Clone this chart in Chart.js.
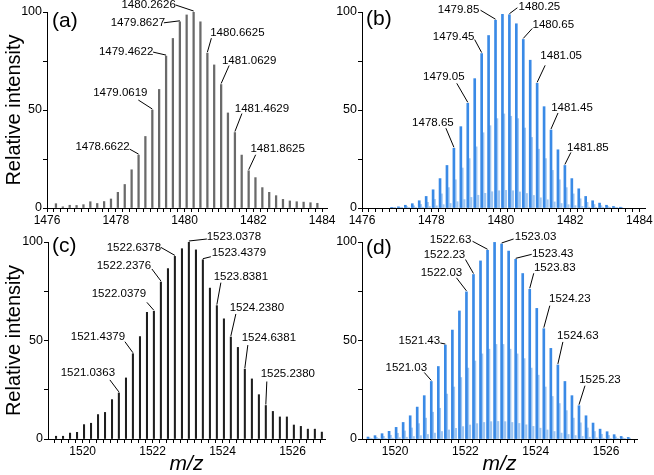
<!DOCTYPE html>
<html lang="en">
<head>
<meta charset="UTF-8">
<title>Isotope patterns</title>
<script src="https://cdn.jsdelivr.net/npm/chart.js"></script>
<style>
  body { margin: 0; background: #fff; width: 654px; height: 475px; position: relative; overflow: hidden; }
  .panel { position: absolute; }
</style>
</head>
<body>
<div class="panel" style="left:0;top:0"><canvas id="ca" width="345" height="232"></canvas></div>
<div class="panel" style="left:330px;top:0"><canvas id="cb" width="324" height="232"></canvas></div>
<div class="panel" style="left:0;top:230px"><canvas id="cc" width="340" height="245"></canvas></div>
<div class="panel" style="left:330px;top:230px"><canvas id="cd" width="324" height="245"></canvas></div>
<script>
// (a) measured, m/z 1476-1484
const mzA = [1476.26, 1476.46, 1476.66, 1476.86, 1477.06, 1477.26, 1477.46, 1477.66, 1477.86, 1478.06,
  1478.26, 1478.46, 1478.6622, 1478.86, 1479.0619, 1479.26, 1479.4622, 1479.66, 1479.8627, 1480.06,
  1480.2626, 1480.46, 1480.6625, 1480.86, 1481.0629, 1481.26, 1481.4629, 1481.66, 1481.8625, 1482.06,
  1482.26, 1482.46, 1482.66, 1482.86, 1483.06, 1483.26, 1483.46, 1483.66, 1483.86];
const intA = [2.2, 0.6, 1.4, 1.3, 1.7, 3.2, 2.3, 3.3, 4.6, 8,
  12, 19.5, 27, 36.5, 50, 60.5, 77.5, 86.5, 95, 98.5,
  100, 95, 79, 73, 63, 48.5, 38.5, 27, 19, 15.5,
  10.4, 8, 6.3, 4.4, 3.6, 3.2, 3, 2.7, 2.4];
const labelsA = ['1478.6622', '1479.0619', '1479.4622', '1479.8627', '1480.2626',
  '1480.6625', '1481.0629', '1481.4629', '1481.8625'];

// (b) simulated, m/z 1476-1484: main peaks, shoulders, and small in-between bumps
const mzB = [1476.85, 1477.05, 1477.25, 1477.45, 1477.65, 1477.85, 1478.05, 1478.25, 1478.45, 1478.65,
  1478.85, 1479.05, 1479.25, 1479.45, 1479.65, 1479.85, 1480.05, 1480.25, 1480.45, 1480.65,
  1480.85, 1481.05, 1481.25, 1481.45, 1481.65, 1481.85, 1482.05, 1482.25, 1482.45, 1482.65,
  1482.85, 1483.05, 1483.25, 1483.45];
const intB = [0.3, 0.6, 1.4, 2.2, 3.7, 5.9, 9.3, 15, 21.7, 30.5,
  41.5, 53.4, 66, 78.8, 88, 95.8, 98.8, 98.6, 94, 86,
  75.4, 63.6, 51.7, 39.8, 29.7, 21.7, 15, 9.8, 5.9, 3.7,
  2.5, 1.4, 0.8, 0.4];
const mzB2 = [1476.89, 1477.09, 1477.29, 1477.49, 1477.69, 1477.89, 1478.09, 1478.29, 1478.49, 1478.69,
  1478.89, 1479.09, 1479.29, 1479.49, 1479.69, 1479.89, 1480.09, 1480.29, 1480.49, 1480.69,
  1480.89, 1481.09, 1481.29, 1481.49, 1481.69, 1481.89, 1482.09, 1482.29, 1482.49, 1482.69,
  1482.89, 1483.09, 1483.29, 1483.49];
const intB2 = [0.1, 0.2, 0.7, 1.1, 1.8, 2.9, 4.4, 7.2, 10.4, 14.4,
  20.4, 25.2, 31.2, 38.4, 42, 45.6, 48, 46.8, 45.6, 40.8,
  36, 30, 25.2, 19.2, 14.4, 10.4, 7.2, 4.7, 2.9, 1.8,
  1.2, 0.7, 0.4, 0.2];
const mzB3 = [1476.95, 1477.15, 1477.35, 1477.55, 1477.75, 1477.95, 1478.15, 1478.35, 1478.55, 1478.75,
  1478.95, 1479.15, 1479.35, 1479.55, 1479.75, 1479.95, 1480.15, 1480.35, 1480.55, 1480.75,
  1480.95, 1481.15, 1481.35, 1481.55, 1481.75, 1481.95, 1482.15, 1482.35, 1482.55, 1482.75,
  1482.95, 1483.15, 1483.35];
const intB3 = [0.05, 0.1, 0.2, 0.3, 0.4, 0.7, 1.1, 1.7, 2.3, 3.2,
  4.3, 5.4, 6.5, 7.5, 8.3, 8.8, 9, 8.8, 8.2, 7.4,
  6.4, 5.2, 4.2, 3.1, 2.3, 1.7, 1.2, 0.8, 0.4, 0.3,
  0.15, 0.1, 0.05];
const labelsB = ['1478.65', '1479.05', '1479.45', '1479.85', '1480.25',
  '1480.65', '1481.05', '1481.45', '1481.85'];

// (c) measured, m/z 1519-1527
const mzC = [1519.24, 1519.44, 1519.64, 1519.84, 1520.04, 1520.24, 1520.44, 1520.64, 1520.84, 1521.0363,
  1521.24, 1521.4379, 1521.64, 1521.84, 1522.0379, 1522.2376, 1522.44, 1522.6378, 1522.84, 1523.0378,
  1523.24, 1523.4379, 1523.64, 1523.8381, 1524.04, 1524.2380, 1524.44, 1524.6381, 1524.84, 1525.04,
  1525.2380, 1525.44, 1525.64, 1525.84, 1526.04, 1526.24, 1526.44, 1526.64, 1526.84];
const intC = [1.4, 1.4, 3, 3.4, 7.3, 8, 12.4, 13.5, 20, 23.4,
  31, 43.3, 52, 64.3, 64.8, 79.7, 86.5, 92.7, 96.6, 100,
  96, 91, 76.6, 67.7, 61, 51.8, 46.5, 35.5, 30.5, 22.5,
  17, 14, 11.2, 11.2, 7.1, 6.4, 5, 5, 3.5];
const labelsC = ['1521.0363', '1521.4379', '1522.0379', '1522.2376', '1522.6378', '1523.0378',
  '1523.4379', '1523.8381', '1524.2380', '1524.6381', '1525.2380'];

// (d) simulated, m/z 1519-1527
const mzD = [1519.23, 1519.43, 1519.63, 1519.83, 1520.03, 1520.23, 1520.43, 1520.63, 1520.83, 1521.03,
  1521.23, 1521.43, 1521.63, 1521.83, 1522.03, 1522.23, 1522.43, 1522.63, 1522.83, 1523.03,
  1523.23, 1523.43, 1523.63, 1523.83, 1524.03, 1524.23, 1524.43, 1524.63, 1524.83, 1525.03,
  1525.23, 1525.43, 1525.63, 1525.83, 1526.03, 1526.23, 1526.43, 1526.63];
const intD = [1, 1.7, 2.7, 3.9, 5.9, 8.4, 11.8, 16.2, 22, 29.2,
  36.8, 47.7, 55.3, 65, 74.7, 83.5, 90.4, 95.8, 99.8, 99,
  95.4, 91.2, 84, 76, 66.3, 56, 46, 37.6, 29.2, 22,
  16.9, 11.8, 8.1, 5, 3.7, 2.2, 1.3, 0.8];
const mzD2 = [1519.27, 1519.47, 1519.67, 1519.87, 1520.07, 1520.27, 1520.47, 1520.67, 1520.87, 1521.07,
  1521.27, 1521.47, 1521.67, 1521.87, 1522.07, 1522.27, 1522.47, 1522.67, 1522.87, 1523.07,
  1523.27, 1523.47, 1523.67, 1523.87, 1524.07, 1524.27, 1524.47, 1524.67, 1524.87, 1525.07,
  1525.27, 1525.47, 1525.67, 1525.87, 1526.07, 1526.27, 1526.47, 1526.67];
const intD2 = [0.5, 0.8, 1.3, 1.9, 2.9, 4.1, 5.6, 7.8, 10.6, 13.6,
  15.6, 22.8, 26.4, 31.2, 36, 39.6, 43.2, 45.6, 48, 48,
  45.6, 43.2, 40.8, 36, 32.4, 26.4, 21.6, 18, 14.4, 10.6,
  8.2, 5.6, 3.8, 2.4, 1.8, 1.1, 0.6, 0.4];
const mzD3 = [1519.33, 1519.53, 1519.73, 1519.93, 1520.13, 1520.33, 1520.53, 1520.73, 1520.93, 1521.13,
  1521.33, 1521.53, 1521.73, 1521.93, 1522.13, 1522.33, 1522.53, 1522.73, 1522.93, 1523.13,
  1523.33, 1523.53, 1523.73, 1523.93, 1524.13, 1524.33, 1524.53, 1524.73, 1524.93, 1525.13,
  1525.33, 1525.53, 1525.73, 1525.93, 1526.13, 1526.33, 1526.53];
const intD3 = [0.12, 0.2, 0.3, 0.45, 0.65, 0.9, 1.25, 1.7, 2.3, 3,
  3.8, 4.6, 5.4, 6.3, 7.1, 7.8, 8.4, 8.8, 8.9, 8.8,
  8.4, 7.9, 7.2, 6.4, 5.5, 4.6, 3.8, 3, 2.3, 1.75,
  1.3, 0.9, 0.6, 0.4, 0.3, 0.16, 0.1];
const labelsD = ['1521.03', '1521.43', '1522.03', '1522.23', '1522.63', '1523.03',
  '1523.43', '1523.83', '1524.23', '1524.63', '1525.23'];

const tickLabelsTop = [1476, 1478, 1480, 1482, 1484];
const tickLabelsBottom = [1520, 1522, 1524, 1526];
const yTickLabels = [0, 50, 100];

// label placement: [text dx, text dy, line start dx, line start dy] relative to peak top (px)
const placeA = [[-36, -8, -9, -6], [-32, -17, -14, -10], [-40, -4, -13, -4], [-42, 1, -16, 1], [-45, -7, -18, -7],
  [30, -20, 4, -15], [28, -24, 8, -19], [27, -24, 7, -19], [29, -22, 7, -16]];
const placeB = [[-21, -25, -8, -20], [-24, -27, -11, -20], [-28, -17, -7, -14], [-37, -10, -15, -10], [30, -8, 8, -7],
  [30, -15, 9, -11], [24, -28, 8, -18], [21, -22, 7, -17], [23, -18, 6, -13]];
const placeC = [[-31, -20, -9, -13], [-35, -17, -8, -12], [-35, -18, -7, -9], [-37, -16, -9, -13], [-41, -9, -14, -9],
  [45, -5, 18, -3], [36, -7, 8, -3], [24, -29, 4, -23], [26, -29, 5, -23], [24, -31, 3, -24], [22, -32, 1, -24]];
const placeD = [[-25, -14, -7, -9], [-26, -4, -5, -2], [-25, -19, -10, -14], [-29, -20, -8, -15], [-37, -10, -15, -9],
  [34, -7, 12, -5], [37, -6, 16, -5], [25, -21, 4, -16], [26, -30, 6, -23], [20, -29, 5, -23], [21, -26, 6, -20]];

const FONT = '"Liberation Sans", Arial, Helvetica, sans-serif';
const DARK_BLUE = '#3a8ae6';
const LIGHT_BLUE = '#9fc6f2';

const pts = (xs, ys) => xs.map((x, i) => ({ x: x, y: ys[i] }));

const peakLabels = {
  id: 'peakLabels',
  afterDatasetsDraw(chart, args, opts) {
    const { ctx, scales: { x, y } } = chart;
    const data = chart.data.datasets[0].data;
    ctx.save();
    ctx.font = '11.5px ' + FONT;
    ctx.fillStyle = '#000';
    ctx.strokeStyle = '#000';
    ctx.lineWidth = 1;
    ctx.textAlign = 'center';
    ctx.textBaseline = 'middle';
    opts.texts.forEach((t, i) => {
      const mz = parseFloat(t);
      const p = data.reduce((a, b) => Math.abs(b.x - mz) < Math.abs(a.x - mz) ? b : a);
      const px = x.getPixelForValue(p.x);
      const py = y.getPixelForValue(p.y);
      const [dx, dy, lx, ly] = opts.place[i];
      ctx.beginPath();
      ctx.moveTo(px + lx, py + ly);
      ctx.lineTo(px, py - 1);
      ctx.stroke();
      ctx.fillText(t, px + dx, py + dy);
    });
    // panel tag
    ctx.font = '21px ' + FONT;
    ctx.textAlign = 'left';
    ctx.fillText(opts.tag, chart.chartArea.left + opts.tagDx, chart.chartArea.top + opts.tagDy);
    ctx.restore();
  }
};

function makePanel(id, cfg) {
  const canvas = document.getElementById(id);
  const W = canvas.width, H = canvas.height;
  // main peaks first (labels look them up), extra profile parts drawn underneath
  const datasets = [{ data: pts(cfg.mz, cfg.vals), backgroundColor: cfg.color, barThickness: cfg.thick, order: 0 }];
  if (cfg.mz2) {
    datasets.push({ data: pts(cfg.mz2, cfg.vals2), backgroundColor: LIGHT_BLUE, barThickness: 2, order: 1 });
    datasets.push({ data: pts(cfg.mz3, cfg.vals3), backgroundColor: LIGHT_BLUE, barThickness: 1.6, order: 2 });
  }
  return new Chart(canvas, {
    type: 'bar',
    data: { datasets: datasets },
    options: {
      responsive: false,
      animation: false,
      grouped: false,
      layout: { padding: { top: cfg.area.top, right: W - cfg.area.right, left: 0, bottom: 0 } },
      plugins: {
        legend: { display: false },
        tooltip: { enabled: false },
        peakLabels: { texts: cfg.labels, place: cfg.place, tag: cfg.tag, tagDx: cfg.tagDx, tagDy: cfg.tagDy }
      },
      scales: {
        x: {
          type: 'linear',
          offset: false,
          min: cfg.xmin,
          max: cfg.xmax,
          border: { color: '#000', width: 1 },
          grid: { drawOnChartArea: false, drawTicks: true, tickLength: 4, color: '#000', offset: false },
          afterBuildTicks: (s) => {
            const t = [];
            const first = Math.ceil(cfg.xmin * 5 - 1e-6);
            for (let k = first; k / 5 <= cfg.xmax + 1e-6; k++) t.push({ value: k / 5 });
            s.ticks = t;
          },
          ticks: {
            autoSkip: false,
            maxRotation: 0,
            padding: 1,
            color: '#000',
            font: { family: FONT, size: 12 },
            callback: (v) => cfg.xLabels.some(l => Math.abs(l - v) < 1e-6) ? String(Math.round(v)) : ''
          },
          title: {
            display: !!cfg.xTitle,
            text: cfg.xTitle || '',
            color: '#000',
            padding: 0,
            font: { family: FONT, size: 21, style: 'italic', lineHeight: 1 }
          },
          afterFit: (s) => { s.height = H - cfg.area.bottom; s.paddingLeft = 0; s.paddingRight = 0; }
        },
        y: {
          min: 0,
          max: 100,
          border: { color: '#000', width: 1 },
          grid: { drawOnChartArea: false, drawTicks: true, tickLength: 4, color: '#000' },
          afterBuildTicks: (s) => { s.ticks = [0, 25, 50, 75, 100].map(v => ({ value: v })); },
          ticks: {
            padding: 1,
            color: '#000',
            font: { family: FONT, size: 12.5 },
            callback: (v) => yTickLabels.includes(v) ? String(v) : ''
          },
          title: {
            display: !!cfg.yTitle,
            text: cfg.yTitle || '',
            color: '#000',
            padding: 2,
            font: { family: FONT, size: 20, lineHeight: 1.2 }
          },
          afterFit: (s) => { s.width = cfg.area.left; s.paddingTop = 0; s.paddingBottom = 0; }
        }
      }
    },
    plugins: [peakLabels]
  });
}

makePanel('ca', {
  mz: mzA, vals: intA, color: '#6a6a6a', thick: 1.6,
  xmin: 1476, xmax: 1484.14, xLabels: tickLabelsTop,
  area: { left: 47, top: 12, right: 327, bottom: 208 },
  labels: labelsA, place: placeA, tag: '(a)', tagDx: 5, tagDy: 9,
  yTitle: 'Relative intensity'
});
makePanel('cb', {
  mz: mzB, vals: intB, mz2: mzB2, vals2: intB2, mz3: mzB3, vals3: intB3, color: DARK_BLUE, thick: 2,
  xmin: 1476, xmax: 1484.16, xLabels: tickLabelsTop,
  area: { left: 32, top: 12, right: 315, bottom: 208 },
  labels: labelsB, place: placeB, tag: '(b)', tagDx: 4, tagDy: 7
});
makePanel('cc', {
  mz: mzC, vals: intC, color: '#1e1e1e', thick: 1.4,
  xmin: 1519.01, xmax: 1526.93, xLabels: tickLabelsBottom,
  area: { left: 48, top: 12, right: 325, bottom: 209 },
  labels: labelsC, place: placeC, tag: '(c)', tagDx: 4, tagDy: 4,
  yTitle: 'Relative intensity', xTitle: 'm/z'
});
makePanel('cd', {
  mz: mzD, vals: intD, mz2: mzD2, vals2: intD2, mz3: mzD3, vals3: intD3, color: DARK_BLUE, thick: 2,
  xmin: 1519.06, xmax: 1526.88, xLabels: tickLabelsBottom,
  area: { left: 32, top: 12, right: 307, bottom: 209 },
  labels: labelsD, place: placeD, tag: '(d)', tagDx: 4, tagDy: 6,
  xTitle: 'm/z'
});
</script>
</body>
</html>
